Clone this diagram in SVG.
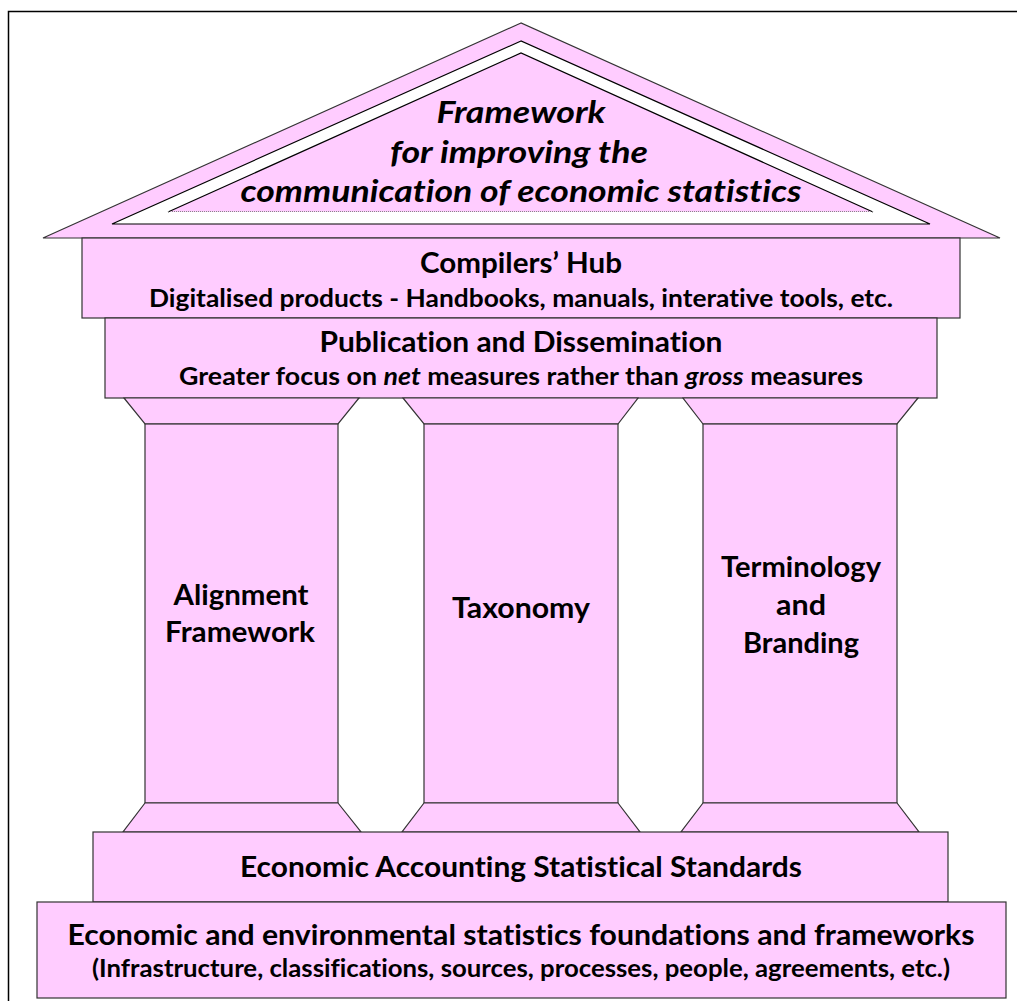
<svg xmlns="http://www.w3.org/2000/svg" width="1017" height="1001" viewBox="0 0 1017 1001">
<style>
.p{fill:#FFCCFF;stroke:#333;stroke-width:1.2}
.t{font-family:Lato,"Liberation Sans",sans-serif;font-weight:bold;fill:#000;text-anchor:middle;font-variant-ligatures:none}
.big{font-size:28px}
.sm{font-size:24px}
.it{font-style:italic;font-size:30px}
</style>
<rect x="0" y="0" width="1017" height="1001" fill="#fff"/>
<rect x="8.5" y="11.5" width="1030" height="1010" fill="none" stroke="#000" stroke-width="1.5"/>
<g id="connectors"></g>
<g id="roof">
<polygon class="p" points="521,23 43,238 1000,238"/>
<polygon points="521,41 112,224 930,224" fill="#fff" stroke="#000" stroke-width="1.2"/>
<polygon points="521,53 168,212 873,212" fill="#FFCCFF" stroke="none"/>
<polyline points="168,212 521,53 873,212" fill="none" stroke="#000" stroke-width="1.2"/>
<line x1="168" y1="211.5" x2="873" y2="211.5" stroke="#888" stroke-width="1" stroke-dasharray="1,1"/>
<text class="t it" x="521" y="123" textLength="169" lengthAdjust="spacingAndGlyphs">Framework</text>
<text class="t it" x="519" y="163" textLength="258" lengthAdjust="spacingAndGlyphs">for improving the</text>
<text class="t it" x="521" y="202" textLength="561" lengthAdjust="spacingAndGlyphs">communication of economic statistics</text>
</g>
<g id="compilers-hub">
<rect class="p" x="82" y="238" width="878" height="80"/>
<text class="t big" x="521" y="273" textLength="202" lengthAdjust="spacingAndGlyphs">Compilers’ Hub</text>
<text class="t sm" x="521" y="307" textLength="744" lengthAdjust="spacingAndGlyphs">Digitalised products - Handbooks, manuals, interative tools, etc.</text>
</g>
<g id="publication">
<rect class="p" x="105" y="318" width="832" height="80"/>
<text class="t big" x="521" y="352" textLength="403" lengthAdjust="spacingAndGlyphs">Publication and Dissemination</text>
<text class="t sm" x="521" y="385" textLength="684" lengthAdjust="spacingAndGlyphs">Greater focus on <tspan font-style="italic">net</tspan> measures rather than <tspan font-style="italic">gross</tspan> measures</text>
</g>
<g id="pillar-alignment">
<polygon class="p" points="124,398 359,398 338,424 145,424"/>
<rect class="p" x="145" y="424" width="193" height="379"/>
<polygon class="p" points="145,803 338,803 361,832 123,832"/>
<text class="t big" x="241" y="605" textLength="135" lengthAdjust="spacingAndGlyphs">Alignment</text>
<text class="t big" x="240" y="642" textLength="150" lengthAdjust="spacingAndGlyphs">Framework</text>
</g>
<g id="pillar-taxonomy">
<polygon class="p" points="403,398 638,398 618,424 424,424"/>
<rect class="p" x="424" y="424" width="194" height="379"/>
<polygon class="p" points="424,803 618,803 640,832 402,832"/>
<text class="t big" x="521" y="618" textLength="138" lengthAdjust="spacingAndGlyphs">Taxonomy</text>
</g>
<g id="pillar-terminology">
<polygon class="p" points="683,398 918,398 897,424 703,424"/>
<rect class="p" x="703" y="424" width="194" height="379"/>
<polygon class="p" points="703,803 897,803 919,832 681,832"/>
<text class="t big" x="801" y="577" textLength="160" lengthAdjust="spacingAndGlyphs">Terminology</text>
<text class="t big" x="801" y="615" textLength="50" lengthAdjust="spacingAndGlyphs">and</text>
<text class="t big" x="801" y="653" textLength="116" lengthAdjust="spacingAndGlyphs">Branding</text>
</g>
<g id="standards">
<rect class="p" x="93" y="832" width="855" height="70"/>
<text class="t big" x="521" y="877" textLength="562" lengthAdjust="spacingAndGlyphs">Economic Accounting Statistical Standards</text>
</g>
<g id="foundations">
<rect class="p" x="37" y="902" width="969" height="96"/>
<text class="t big" x="521" y="945" textLength="907" lengthAdjust="spacingAndGlyphs">Economic and environmental statistics foundations and frameworks</text>
<text class="t sm" x="521" y="977" textLength="858" lengthAdjust="spacingAndGlyphs">(Infrastructure, classifications, sources, processes, people, agreements, etc.)</text>
</g>
</svg>
